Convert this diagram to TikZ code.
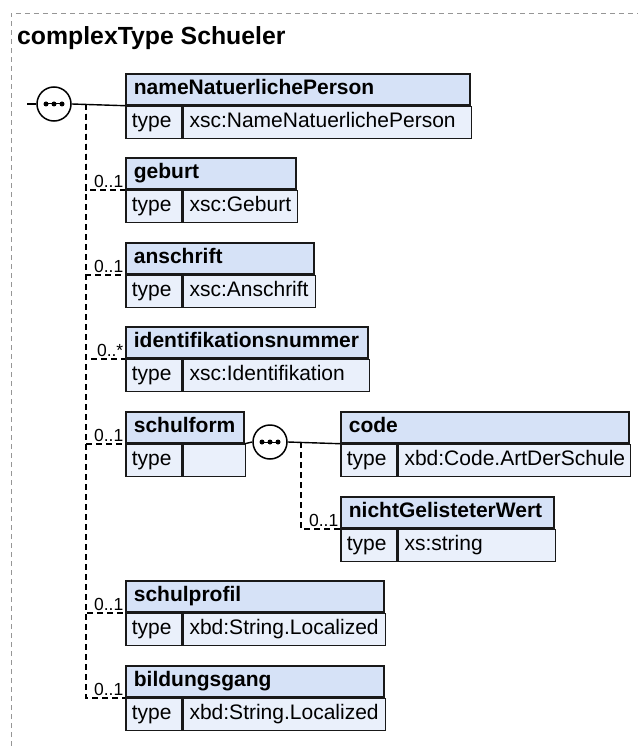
\documentclass[tikz,border=0pt]{standalone}
\usepackage{fontspec}
\setmainfont{Liberation Sans}
\usepackage{tikz}
\usetikzlibrary{positioning}
\usepackage{xcolor}

\definecolor{hdrblue}{RGB}{214,226,247}
\definecolor{cellblue}{RGB}{234,240,251}
\definecolor{framegray}{RGB}{150,150,150}

\tikzset{
	boxline/.style={draw=black!90, line width=1.7pt},
	hdr/.style={boxline, fill=hdrblue, rectangle, anchor=north west, minimum height=31pt,
		inner xsep=8pt, inner ysep=0pt, text height=15.5pt, text depth=5pt, align=left,
		font=\fontsize{21}{25}\selectfont\bfseries},
	cell/.style={boxline, fill=cellblue, rectangle, anchor=north west, minimum height=32pt,
		inner xsep=6pt, inner ysep=0pt, text height=15.5pt, text depth=5pt, align=left,
		font=\fontsize{21}{25}\selectfont},
	mult/.style={anchor=south east, inner sep=1.5pt, font=\fontsize{17.5}{21}\selectfont},
	seqline/.style={line width=1.4pt},
	optline/.style={line width=1.6pt, dash pattern=on 6pt off 4pt},
	seqnode/.style={circle, draw, line width=1.5pt, fill=white, minimum size=34pt, inner sep=0pt,
		path picture={
			\draw[black, line width=1pt] ([xshift=-8pt]path picture bounding box.center) -- ([xshift=8pt]path picture bounding box.center);
			\foreach \d in {-8,0,8}{\fill[black] ([xshift=\d pt]path picture bounding box.center) circle (2.5pt);}
		}},
	frame/.style={draw=framegray, line width=0.8pt, dash pattern=on 5pt off 4pt},
	title/.style={anchor=base west, inner sep=0pt, font=\fontsize{24.8}{29}\selectfont\bfseries}
}

% element box: id, x, y, width, name, type
\newcommand{\xelem}[6]{%
	\pgfmathsetmacro\hdrw{#4-16}%
	\pgfmathsetmacro\valw{#4-68}%
	\node[hdr, text width=\hdrw pt] (#1) at (#2,#3) {#5};
	\node[cell, text width=44pt] (#1-t) at (#1.south west) {type};
	\node[cell, text width=\valw pt] (#1-v) at (#1-t.north east) {#6};
}

\begin{document}
\begin{tikzpicture}[x=1pt, y=-1pt]
	\useasboundingbox (0,0) rectangle (638,746);
	\draw[frame] (11,746) -- (11,13) -- (638,13);
	\node[title] (title) at (17,45) {complexType Schueler};
	
	% outer sequence
	\xelem{name}{125}{73}{344}{nameNatuerlichePerson}{xsc:NameNatuerlichePerson}
	\xelem{geburt}{125}{157}{170}{geburt}{xsc:Geburt}
	\xelem{anschrift}{125}{242}{188}{anschrift}{xsc:Anschrift}
	\xelem{ident}{125}{326}{242}{identifikationsnummer}{xsc:Identifikation}
	\xelem{schulform}{125}{411}{118}{schulform}{}
	\xelem{schulprofil}{125}{580}{258}{schulprofil}{xbd:String.Localized}
	\xelem{bildung}{125}{665}{258}{bildungsgang}{xbd:String.Localized}
	
	% inner sequence of schulform
	\xelem{code}{340}{411}{288}{code}{xbd:Code.ArtDerSchule}
	\xelem{nicht}{340}{496}{213}{nichtGelisteterWert}{xs:string}
	
	\coordinate (seq1-in) at (27,104);
	\coordinate (seq1-bus) at (86,104);
	\node[seqnode] (seq1) at (54,104) {};
	\draw[seqline] (seq1-in) -- (seq1.west);
	\draw[seqline] (seq1.east) -- (name.south west);
	\foreach \e in {geburt,anschrift,ident,schulform,schulprofil,bildung}
		\draw[optline] (seq1-bus) |- (\e.south west);
	
	\coordinate (seq2-bus) at (301,442);
	\node[seqnode] (seq2) at (270,442) {};
	\draw[seqline] (schulform.south east) -- (seq2.west);
	\draw[seqline] (seq2.east) -- (code.south west);
	\draw[optline] (seq2-bus) |- (nicht.south west);
	
	% multiplicities
	\node[mult] at (geburt.south west) {0..1};
	\node[mult] at (anschrift.south west) {0..1};
	\node[mult] at (ident.south west) {0..*};
	\node[mult] at (schulform.south west) {0..1};
	\node[mult] at (schulprofil.south west) {0..1};
	\node[mult] at (bildung.south west) {0..1};
	\node[mult] at (nicht.south west) {0..1};
\end{tikzpicture}
\end{document}
